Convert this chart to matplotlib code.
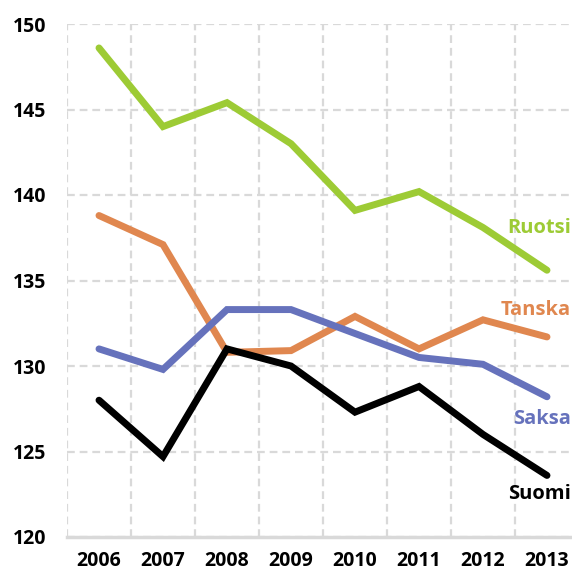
import matplotlib.pyplot as plt

years = ["2006", "2007", "2008", "2009", "2010", "2011", "2012", "2013"]
ruotsi = [148.6, 144.0, 145.4, 143.0, 139.1, 140.2, 138.1, 135.6]
tanska = [138.8, 137.1, 130.8, 130.9, 132.9, 131.0, 132.7, 131.7]
saksa = [131.0, 129.8, 133.3, 133.3, 131.9, 130.5, 130.1, 128.2]
suomi = [128.0, 124.7, 131.0, 130.0, 127.3, 128.8, 126.0, 123.6]

# name, values, colour, baseline of the end label (data units)
series = [
    ("Ruotsi", ruotsi, "#9dcb35", 137.8),
    ("Tanska", tanska, "#e0874f", 133.0),
    ("Saksa", saksa, "#6672bc", 126.6),
    ("Suomi", suomi, "#000000", 122.2),
]

plt.rcParams["font.family"] = ["Open Sans", "DejaVu Sans"]

fig = plt.figure(figsize=(5.72, 5.72), dpi=100)
# plot area runs a bit past the right edge, like the original
ax = fig.add_axes([67 / 572, 1 - 537 / 572, 512 / 572, 513 / 572])

x = list(range(len(years)))
for name, vals, col, ylab in series:
    ax.plot(x, vals, color=col, lw=5, solid_joinstyle="miter", solid_capstyle="round", zorder=3)
    ax.text(0.984, ylab, name, transform=ax.get_yaxis_transform(),
            ha="right", va="baseline", fontsize=14.5, fontweight="bold", color=col, zorder=4)

ax.set_xlim(-0.5, 7.5)
ax.set_ylim(120, 150)
ax.set_yticks([120, 125, 130, 135, 140, 145, 150])
ax.set_xticks(x)
ax.set_xticklabels(years)
ax.set_xticks([i + 0.5 for i in range(-1, 8)], minor=True)

for s in ["top", "right", "left"]:
    ax.spines[s].set_visible(False)
ax.spines["bottom"].set_color("#d9d9d9")
ax.spines["bottom"].set_linewidth(2.5)

ax.grid(axis="y", which="major", color="#d9d9d9", ls=(0, (3.5, 2.2)), lw=1.6, zorder=0)
ax.grid(axis="x", which="minor", color="#d9d9d9", ls=(0, (3.5, 2.2)), lw=1.6, zorder=0)
ax.tick_params(which="both", length=0)
ax.tick_params(axis="y", pad=15, labelsize=14)
ax.tick_params(axis="x", pad=10, labelsize=14)
for lab in ax.get_xticklabels() + ax.get_yticklabels():
    lab.set_fontweight("bold")

fig.savefig("out.png", dpi=100)
